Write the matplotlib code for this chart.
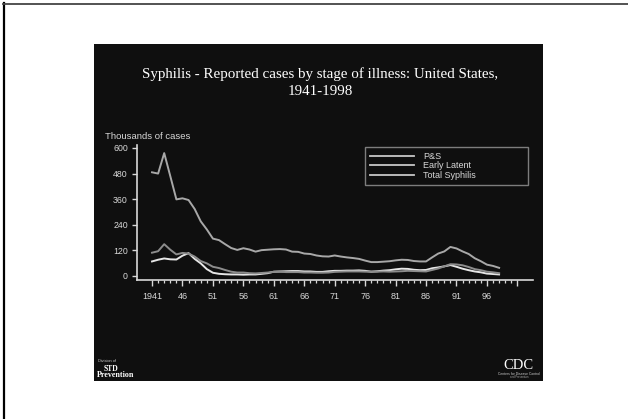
import matplotlib
matplotlib.use("Agg")
import matplotlib.pyplot as plt
from matplotlib.patches import Rectangle
from matplotlib.lines import Line2D
import numpy as np

# Data (thousands of cases)
years = list(range(1941, 1999))
ps = [68, 76, 82, 78, 77, 95, 107, 80, 59, 32, 15, 10, 8, 7, 7, 6, 7, 7, 10, 13,
      20, 21, 22, 23, 23, 21, 21, 19, 19, 22, 24, 24, 25, 25, 26, 24, 20, 22, 25, 27,
      31, 34, 33, 29, 27, 28, 36, 40, 45, 51, 43, 34, 27, 21, 17, 11, 9, 7]
early_latent = [109, 116, 149, 123, 101, 108, 105, 91, 70, 59, 43, 37, 28, 20, 16, 16, 13, 12, 14, 16,
                19, 20, 18, 18, 18, 16, 16, 15, 15, 16, 19, 20, 21, 21, 21, 20, 20, 20, 21, 20,
                21, 22, 24, 23, 22, 21, 28, 35, 45, 55, 54, 50, 42, 32, 27, 20, 17, 13]
total = [486, 480, 576, 468, 359, 364, 356, 314, 256, 218, 175, 168, 149, 131, 122, 130, 124, 114, 121, 123,
         125, 126, 124, 114, 113, 105, 103, 96, 92, 91, 96, 91, 87, 84, 80, 72, 65, 65, 67, 69,
         73, 76, 75, 70, 68, 68, 87, 105, 115, 136, 129, 115, 103, 83, 69, 53, 47, 38]

series_names = ["P&S", "Early Latent", "Total Syphilis"]
y_ticks = [0, 120, 240, 360, 480, 600]
x_major = list(range(1941, 2002, 5))
x_labels = ["1941", "46", "51", "56", "61", "66", "71", "76", "81", "86", "91", "96", ""]

W, H = 628, 419
fig = plt.figure(figsize=(W / 100, H / 100), dpi=100)
fig.patch.set_facecolor("white")

def fx(px):
    return px / W

def fy(py):
    return 1 - py / H

# slide background
fig.patches.append(Rectangle((fx(94), fy(381)), fx(543) - fx(94), fy(44) - fy(381),
                             transform=fig.transFigure, facecolor="#0f0f0f", edgecolor="none", zorder=-5))
# outer frame (left and top only)
fig.lines.append(Line2D([fx(4), fx(4)], [fy(3), fy(419)], transform=fig.transFigure, color="black", lw=1.6))
fig.lines.append(Line2D([fx(3), fx(628)], [fy(4), fy(4)], transform=fig.transFigure, color="#444444", lw=1.3))

fig.text(fx(320), fy(82.5), "Syphilis - Reported cases by stage of illness: United States,\n1941-1998",
         ha="center", va="center", color="white", fontsize=10.8, family="Liberation Serif", linespacing=1.45)

ax = fig.add_axes([fx(136.8), fy(280), fx(532.6) - fx(136.8), fy(145) - fy(280)])
ax.set_facecolor("none")
ax.patch.set_alpha(0)
ax.set_zorder(2)

line_cols = ["#e6e6e6", "#8c8c8c", "#a8a8a8"]
for vals, name, c in zip([ps, early_latent, total], series_names, line_cols):
    ax.plot(years, vals, color=c, lw=1.4, label=name)

ax.set_xlim(1938.5, 2003.5)
ax.set_ylim(-19, 614)
ax.set_xticks(x_major)
ax.set_xticklabels(x_labels)
ax.set_xticks(range(1941, 2002), minor=True)
ax.set_yticks(y_ticks)

for s in ["top", "right"]:
    ax.spines[s].set_visible(False)
for s in ["left", "bottom"]:
    ax.spines[s].set_color("#d8d8d8")
    ax.spines[s].set_linewidth(1.2)

ax.tick_params(axis="x", which="major", direction="out", length=4, width=1, color="#d8d8d8",
               labelcolor="#d8d8d8", labelsize=6.5, pad=4.5)
ax.tick_params(axis="x", which="minor", direction="out", length=2.2, width=0.9, color="#d8d8d8")
ax.tick_params(axis="y", direction="out", length=3.5, width=1, color="#d8d8d8",
               labelcolor="#d8d8d8", labelsize=6.3, pad=3)
for lab in ax.get_xticklabels() + ax.get_yticklabels():
    lab.set_family("Liberation Sans")

fig.text(fx(105), fy(136), "Thousands of cases", ha="left", va="center", color="#d8d8d8",
         fontsize=6.8, family="Liberation Sans")

leg = ax.legend(loc="upper left", bbox_to_anchor=(fx(365), fy(185), fx(528) - fx(365), fy(147) - fy(185)),
                bbox_transform=fig.transFigure, mode="expand", borderaxespad=0,
                prop={"family": "Liberation Sans", "size": 6.5}, labelspacing=0.05,
                handlelength=4.9, handletextpad=1.0, borderpad=0.55, fancybox=False)
leg.get_frame().set_facecolor("#0f0f0f")
leg.get_frame().set_edgecolor("#9a9a9a")
leg.get_frame().set_linewidth(1.0)
for t in leg.get_texts():
    t.set_color("#d8d8d8")
for h in leg.get_lines():
    h.set_color("#c8c8c8")
    h.set_linewidth(1.3)

# logos
fig.text(fx(98), fy(361), "Division of", color="#cccccc", fontsize=2.8, family="Liberation Sans", va="center")
fig.text(fx(104), fy(368.5), "STD", color="white", fontsize=5.5, family="Liberation Serif",
         weight="bold", va="center")
fig.text(fx(97), fy(375), "Prevention", color="white", fontsize=5.8, family="Liberation Serif",
         weight="bold", va="center")
fig.text(fx(518), fy(365), "CDC", color="white", fontsize=10.5, family="Liberation Serif",
         ha="center", va="center")
fig.text(fx(519), fy(373.5), "Centers for Disease Control", color="#cccccc", fontsize=2.4,
         family="Liberation Sans", ha="center", va="center")
fig.text(fx(519), fy(377), "and Prevention", color="#aaaaaa", fontsize=2.0,
         family="Liberation Sans", ha="center", va="center")

fig.savefig("out.png", dpi=100, facecolor=fig.get_facecolor())
